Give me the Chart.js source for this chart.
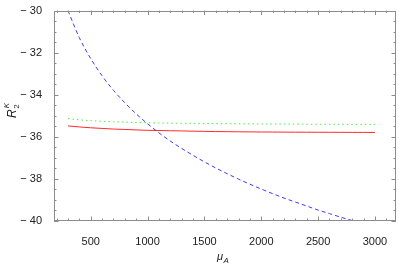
<!DOCTYPE html>
<html>
<head>
<meta charset="utf-8">
<script src="https://cdn.jsdelivr.net/npm/chart.js@4.4.1/dist/chart.umd.min.js"></script>
<style>
  html, body { margin: 0; padding: 0; background: #fff; }
  #wrap { width: 399px; height: 265px; }
</style>
</head>
<body>
<div id="wrap"><canvas id="c" width="399" height="265"></canvas></div>
<script>
// values
const muA = [300, 400, 500, 600, 700, 800, 900, 1000, 1100, 1200, 1300, 1400, 1500, 1600, 1700,
   1800, 1900, 2000, 2100, 2200, 2300, 2400, 2500, 2600, 2700, 2800, 2900, 3000];
const blueDashed = [-30.0, -31.29, -32.28, -33.10, -33.79, -34.38, -34.91, -35.38, -35.81, -36.20, -36.55,
   -36.88, -37.19, -37.48, -37.75, -38.01, -38.25, -38.48, -38.70, -38.91, -39.10, -39.29, -39.48,
   -39.65, -39.82, -39.98, -40.14, -40.30];
const redSolid = [-35.48, -35.53, -35.57, -35.60, -35.63, -35.65, -35.67, -35.69, -35.70, -35.71, -35.72,
   -35.73, -35.74, -35.75, -35.755, -35.76, -35.765, -35.77, -35.772, -35.775, -35.778, -35.78, -35.782,
   -35.784, -35.786, -35.788, -35.789, -35.79];
const greenDotted = [-35.13, -35.19, -35.23, -35.26, -35.28, -35.30, -35.32, -35.33, -35.34, -35.35, -35.355,
   -35.36, -35.365, -35.37, -35.375, -35.38, -35.383, -35.386, -35.39, -35.393, -35.396, -35.40, -35.402,
   -35.404, -35.406, -35.408, -35.409, -35.41];

const xMajor = [500, 1000, 1500, 2000, 2500, 3000];
const yMajor = [-40, -38, -36, -34, -32, -30];
const xRange = [177, 3185];
const yRange = [-40, -30];

const FONT = "'Liberation Sans', Arial, sans-serif";

function pts(ys) {
   return muA.map((x, i) => ({ x: x, y: ys[i] }));
}

// frame + inward ticks on all four sides, like the original
const frameTicks = {
   id: "frameTicks",
   afterDatasetsDraw(chart) {
      const { ctx, chartArea: a, scales } = chart;
      const xs = scales.x, ys = scales.y;
      ctx.save();
      ctx.strokeStyle = "#8c8c8c";
      ctx.lineWidth = 1;
      ctx.beginPath();
      for (let v = 200; v <= 3100; v += 100) {
         const px = Math.round(xs.getPixelForValue(v)) + 0.5;
         const len = v % 500 === 0 ? 4.5 : 2.5;
         ctx.moveTo(px, a.bottom); ctx.lineTo(px, a.bottom - len);
         ctx.moveTo(px, a.top); ctx.lineTo(px, a.top + len);
      }
      for (let v = -40; v <= -30; v += 0.5) {
         const py = Math.round(ys.getPixelForValue(v)) + 0.5;
         const len = v % 2 === 0 ? 4.5 : 2.5;
         ctx.moveTo(a.left, py); ctx.lineTo(a.left + len, py);
         ctx.moveTo(a.right, py); ctx.lineTo(a.right - len, py);
      }
      ctx.stroke();
      ctx.strokeRect(Math.round(a.left) + 0.5, Math.round(a.top) + 0.5,
         Math.round(a.right - a.left) - 1, Math.round(a.bottom - a.top) - 1);

      // axis titles
      ctx.fillStyle = "#222";
      ctx.textBaseline = "alphabetic";
      ctx.save();
      ctx.translate(16, 118);
      ctx.rotate(-Math.PI / 2);
      ctx.font = "italic 12px " + FONT;
      ctx.fillText("R", 0, 0);
      const rw = ctx.measureText("R").width;
      ctx.font = "8px " + FONT;
      ctx.fillText("2", rw + 0.5, 3);
      ctx.font = "italic 8px " + FONT;
      ctx.fillText("K", rw + 1, -7);
      ctx.restore();

      ctx.font = "italic 11px " + FONT;
      ctx.fillText("\u03bc", 217, 260);
      const mw = ctx.measureText("\u03bc").width;
      ctx.font = "italic 8px " + FONT;
      ctx.fillText("A", 217 + mw + 0.5, 263);
      ctx.restore();
   }
};

new Chart(document.getElementById("c"), {
   type: "line",
   data: {
      datasets: [
         {
            data: pts(blueDashed),
            borderColor: "#3c3cff",
            borderWidth: 1,
            borderDash: [4, 3],
            pointRadius: 0,
            cubicInterpolationMode: "monotone"
         },
         {
            data: pts(redSolid),
            borderColor: "#ff2a2a",
            borderWidth: 1,
            pointRadius: 0,
            cubicInterpolationMode: "monotone"
         },
         {
            data: pts(greenDotted),
            borderColor: "#44ee44",
            borderWidth: 1,
            borderDash: [1.5, 3],
            pointRadius: 0,
            cubicInterpolationMode: "monotone"
         }
      ]
   },
   options: {
      responsive: false,
      animation: false,
      events: [],
      layout: { padding: { left: 0, right: 3, top: 10, bottom: 0 } },
      plugins: { legend: { display: false }, tooltip: { enabled: false } },
      scales: {
         x: {
            type: "linear",
            min: xRange[0],
            max: xRange[1],
            afterBuildTicks: (s) => { s.ticks = xMajor.map(v => ({ value: v })); },
            afterFit: (s) => { s.height = 44; },
            grid: { display: false },
            border: { display: false },
            ticks: {
               autoSkip: false,
               maxRotation: 0,
               padding: 6,
               color: "#222",
               font: { family: FONT, size: 11 },
               callback: (v) => String(v)
            }
         },
         y: {
            type: "linear",
            min: yRange[0],
            max: yRange[1],
            afterBuildTicks: (s) => { s.ticks = yMajor.map(v => ({ value: v })); },
            afterFit: (s) => { s.width = 54; },
            grid: { display: false },
            border: { display: false },
            ticks: {
               autoSkip: false,
               padding: 4,
               color: "#222",
               font: { family: FONT, size: 11 },
               callback: (v) => "\u2212 " + Math.abs(v)
            }
         }
      }
   },
   plugins: [frameTicks]
});
</script>
</body>
</html>
